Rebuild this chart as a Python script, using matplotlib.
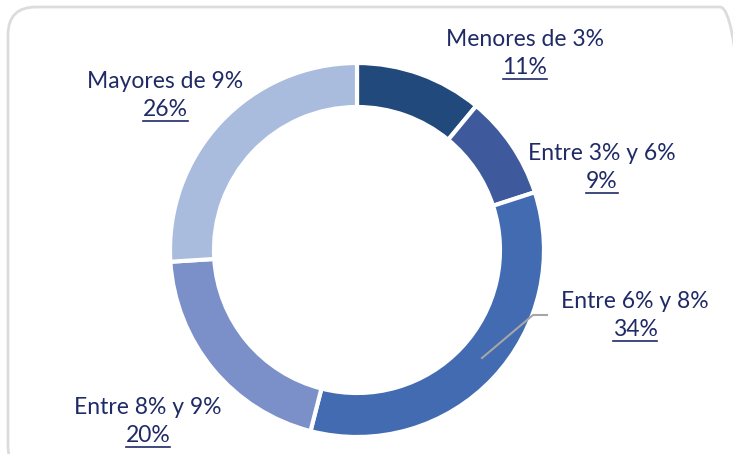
import matplotlib.pyplot as plt
from matplotlib.patches import FancyBboxPatch

labels = ["Menores de 3%", "Entre 3% y 6%", "Entre 6% y 8%", "Entre 8% y 9%", "Mayores de 9%"]
values = [11, 9, 34, 20, 26]
colors = ["#21497C", "#3E5A9D", "#426BB1", "#7B8FC8", "#AABCDD"]
# label positions in pixels (x, y from top)
label_pos = [(525, 40), (602, 154), (635, 302), (148, 408), (165, 82)]

W, H = 733, 454
fig = plt.figure(figsize=(W / 100, H / 100), dpi=100)
ax = fig.add_axes([0, 0, 1, 1])

ax.pie(values, colors=colors, startangle=90, counterclock=False,
       center=(357, H - 250), radius=187, frame=True,
       wedgeprops=dict(width=44, edgecolor="white", linewidth=3))
ax.set_xlim(0, W)
ax.set_ylim(0, H)
ax.set_aspect("equal")
ax.axis("off")

# rounded card border
card = FancyBboxPatch((8, -20), 740, H - 7 + 20, boxstyle="round,pad=0,rounding_size=28",
                      fill=False, edgecolor="#DCDCDC", linewidth=2)
ax.add_patch(card)

# leader line for the 34% slice
ax.plot([547, 533, 482], [H - 315, H - 315, H - 358], color="#A6A6A6", lw=1.5)

txt_color = "#1F2A66"
fig.canvas.draw()
r = fig.canvas.get_renderer()
for lab, v, (x, y) in zip(labels, values, label_pos):
    ax.text(x, H - y, lab, ha="center", va="center", fontsize=16.5,
            family="Lato", color=txt_color)
    t = ax.text(x, H - y - 27, f"{v}%", ha="center", va="center", fontsize=16.5,
                family="Lato", color=txt_color)
    bb = t.get_window_extent(renderer=r)
    ax.plot([bb.x0, bb.x1], [bb.y0 - 1, bb.y0 - 1], color=txt_color, lw=1.2)

fig.savefig("out.png", dpi=100)
